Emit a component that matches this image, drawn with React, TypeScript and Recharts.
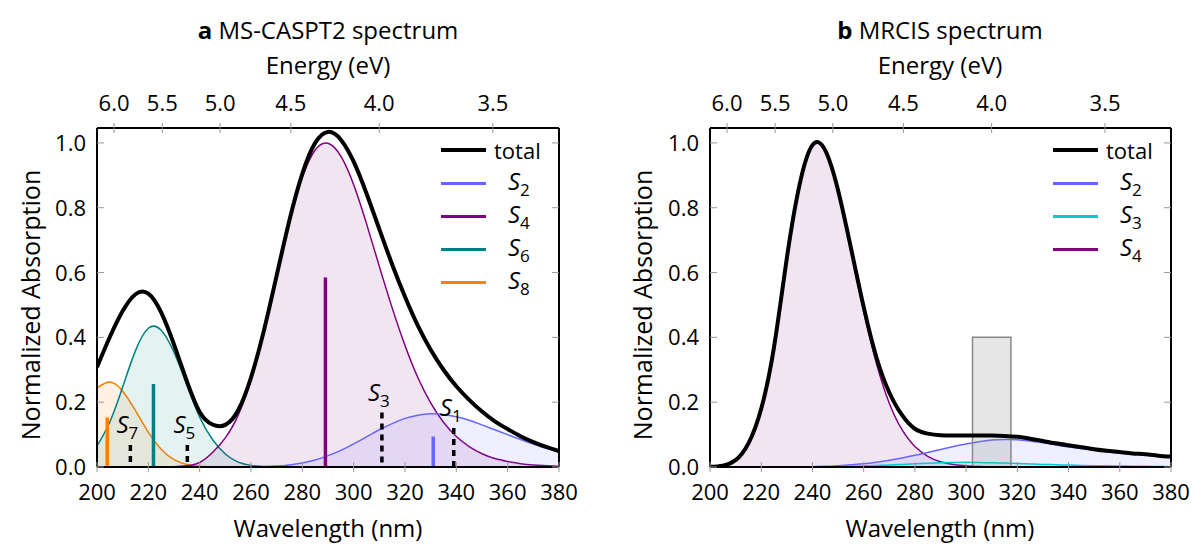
import React from 'react';
import { ComposedChart, Area, Line, XAxis, YAxis, ReferenceLine, ReferenceArea, Scatter } from 'recharts';

const FONT = '"Open Sans", "DejaVu Sans", sans-serif';

// shared wavelength grid (nm)
const wavelengths = [
  200, 205, 210, 215, 220, 225, 230, 235, 240, 245, 250, 255, 260, 265, 270, 275, 280, 285, 290,
  295, 300, 305, 310, 315, 320, 325, 330, 335, 340, 345, 350, 355, 360, 365, 370, 375, 380,
];

// panel a: MS-CASPT2
const aTotal = [
  0.308, 0.401, 0.481, 0.533, 0.535, 0.477, 0.378, 0.265, 0.17, 0.131, 0.13, 0.175, 0.276, 0.42, 0.591,
  0.762, 0.905, 1.0, 1.034, 1.01, 0.942, 0.844, 0.734, 0.625, 0.525, 0.436, 0.362, 0.3, 0.249, 0.207,
  0.171, 0.141, 0.117, 0.095, 0.077, 0.062, 0.049,
];
const aS2 = [
  0, 0, 0, 0, 0, 0, 0, 0, 0, 0, 0, 0.0002, 0.0005, 0.0013, 0.003, 0.0065, 0.0124, 0.0215, 0.035, 0.0514,
  0.0714, 0.0932, 0.115, 0.134, 0.15, 0.16, 0.164, 0.162, 0.155, 0.144, 0.13, 0.115, 0.1, 0.085, 0.071,
  0.058, 0.047,
];
const aS4 = [
  0, 0, 0, 0, 0, 0, 0.001, 0.004, 0.014, 0.045, 0.09, 0.16, 0.27, 0.418, 0.588, 0.755, 0.893, 0.978, 0.999,
  0.959, 0.871, 0.751, 0.619, 0.491, 0.375, 0.276, 0.198, 0.138, 0.094, 0.063, 0.041, 0.026, 0.017, 0.01,
  0.006, 0.004, 0.002,
];
const aS6 = [
  0.065, 0.139, 0.247, 0.359, 0.428, 0.422, 0.354, 0.253, 0.154, 0.085, 0.04, 0.015, 0.005, 0.001, 0, 0, 0,
  0, 0, 0, 0, 0, 0, 0, 0, 0, 0, 0, 0, 0, 0, 0, 0, 0, 0, 0, 0,
];
const aS8 = [
  0.243, 0.262, 0.234, 0.174, 0.107, 0.055, 0.023, 0.008, 0.002, 0.0005, 0, 0, 0, 0, 0, 0, 0, 0, 0, 0, 0,
  0, 0, 0, 0, 0, 0, 0, 0, 0, 0, 0, 0, 0, 0, 0, 0,
];

// oscillator-strength sticks, panel a
const aStickStates = ['S8', 'S6', 'S4', 'S2'];
const aStickWl = [204, 222, 289, 331];
const aStickHeight = [0.153, 0.256, 0.585, 0.094];
const aDarkStates = ['7', '5', '3', '1'];
const aDarkWl = [213, 235.2, 311, 339];
const aDarkHeight = [0.068, 0.068, 0.168, 0.12];

// panel b: MRCIS
const bTotal = [
  0.0006, 0.0043, 0.021, 0.073, 0.18, 0.37, 0.644, 0.872, 0.993, 0.977, 0.854, 0.677, 0.494, 0.338, 0.23,
  0.16, 0.118, 0.103, 0.098, 0.097, 0.097, 0.097, 0.097, 0.096, 0.093, 0.087, 0.08, 0.073, 0.067, 0.061,
  0.055, 0.05, 0.046, 0.042, 0.039, 0.035, 0.032,
];
const bS2 = [
  0, 0, 0, 0, 0, 0, 0, 0, 0.001, 0.002, 0.004, 0.007, 0.01, 0.015, 0.021, 0.028, 0.036, 0.045, 0.054,
  0.063, 0.071, 0.078, 0.083, 0.085, 0.084, 0.08, 0.075, 0.068, 0.062, 0.057, 0.052, 0.047, 0.043, 0.04,
  0.037, 0.034, 0.031,
];
const bS3 = [
  0, 0, 0, 0, 0, 0, 0, 0, 0, 0, 0.001, 0.002, 0.003, 0.0045, 0.006, 0.008, 0.01, 0.0115, 0.013, 0.014,
  0.0145, 0.014, 0.013, 0.012, 0.011, 0.0095, 0.008, 0.007, 0.006, 0.005, 0.004, 0.0035, 0.003, 0.0025,
  0.002, 0.0015, 0.001,
];
const bS4 = [
  0.0006, 0.0043, 0.021, 0.073, 0.18, 0.37, 0.644, 0.872, 0.992, 0.974, 0.849, 0.668, 0.481, 0.319, 0.197,
  0.115, 0.063, 0.033, 0.016, 0.008, 0.0038, 0.0017, 0.0008, 0.0003, 0, 0, 0, 0, 0, 0, 0, 0, 0, 0, 0, 0, 0,
];
// shaded window (nm) and its height
const bWindow = [302.5, 317.5];
const bWindowHeight = 0.4;

// axis ticks
const wavelengthTicks = [200, 220, 240, 260, 280, 300, 320, 340, 360, 380];
const energyLabels = ['6.0', '5.5', '5.0', '4.5', '4.0', '3.5'];
const energyTickWl = [206.64, 225.43, 247.97, 275.52, 309.96, 354.24];
const absTicks = [0, 0.2, 0.4, 0.6, 0.8, 1.0];

const COLORS: Record<string, string> = {
  total: '#000000',
  S2: '#6666ff',
  S3: '#00cccc',
  S4: '#800080',
  S6: '#008080',
  S8: '#ff8000',
};

const aRows = wavelengths.map((wl, i) => ({ wl, total: aTotal[i], S2: aS2[i], S4: aS4[i], S6: aS6[i], S8: aS8[i] }));
const bRows = wavelengths.map((wl, i) => ({ wl, total: bTotal[i], S2: bS2[i], S3: bS3[i], S4: bS4[i] }));
const aLabels = aDarkWl.map((wl, i) => ({ wl, f: aDarkHeight[i], n: aDarkStates[i] }));

const BottomTick = (p: any) => (
  <g>
    <line x1={p.x} x2={p.x} y1={p.y - 5} y2={p.y + 5} stroke="#999" strokeWidth={1} />
    <text x={p.x} y={p.y + 33} textAnchor="middle" fontSize={22} fontFamily={FONT} fill="#000">
      {p.payload.value}
    </text>
  </g>
);

const TopTick = (p: any) => (
  <g>
    <line x1={p.x} x2={p.x} y1={p.y - 5} y2={p.y + 5} stroke="#999" strokeWidth={1} />
    <text x={p.x} y={p.y - 17} textAnchor="middle" fontSize={22} fontFamily={FONT} fill="#000">
      {energyLabels[energyTickWl.indexOf(p.payload.value)]}
    </text>
  </g>
);

const LeftTick = (p: any) => (
  <g>
    <line x1={p.x} x2={p.x + 7} y1={p.y} y2={p.y} stroke="#999" strokeWidth={1} />
    <text x={p.x - 11} y={p.y + 8} textAnchor="end" fontSize={22} fontFamily={FONT} fill="#000">
      {Number(p.payload.value).toFixed(1)}
    </text>
  </g>
);

const RightTick = (p: any) => (
  <line x1={p.x - 7} x2={p.x} y1={p.y} y2={p.y} stroke="#999" strokeWidth={1} />
);

const StateLabel = (p: any) => (
  <text x={p.cx - 3} y={p.cy - 12} textAnchor="middle" fontSize={24} fontFamily={FONT} fill="#000">
    <tspan fontStyle="italic">S</tspan>
    <tspan fontSize={17} dy={6}>{p.payload.n}</tspan>
  </text>
);

const Sub = ({ n }: { n: string }) => (
  <span>
    <i>S</i>
    <span style={{ fontSize: 17, position: 'relative', top: 6 }}>{n}</span>
  </span>
);

const axes = (
  [
    <XAxis key="xb" dataKey="wl" type="number" domain={[200, 380]} ticks={wavelengthTicks} interval={0}
      height={1} tickSize={0} tickMargin={0} tickLine={false} tick={<BottomTick />}
      axisLine={{ stroke: '#000', strokeWidth: 2 }} allowDataOverflow />,
    <XAxis key="xt" xAxisId="top" orientation="top" dataKey="wl" type="number" domain={[200, 380]}
      ticks={energyTickWl} interval={0} height={1} tickSize={0} tickMargin={0} tickLine={false}
      tick={<TopTick />} axisLine={{ stroke: '#000', strokeWidth: 2 }} allowDataOverflow />,
    <YAxis key="yl" type="number" domain={[0, 1.046]} ticks={absTicks} interval={0} width={1}
      tickSize={0} tickMargin={0} tickLine={false} tick={<LeftTick />}
      axisLine={{ stroke: '#000', strokeWidth: 2 }} allowDataOverflow />,
    <YAxis key="yr" yAxisId="right" orientation="right" type="number" domain={[0, 1.046]} ticks={absTicks}
      interval={0} width={1} tickSize={0} tickMargin={0} tickLine={false} tick={<RightTick />}
      axisLine={{ stroke: '#000', strokeWidth: 2 }} allowDataOverflow />,
  ]
);

const comp = (key: string) => (
  <Area key={key} dataKey={key} type="natural" stroke={COLORS[key]} strokeWidth={1.5} fill={COLORS[key]}
    fillOpacity={0.1} dot={false} activeDot={false} isAnimationActive={false} />
);

const Texts = ({ cx, title, bold, ylx }: { cx: number; title: string; bold: string; ylx: number }) => (
  <>
    <div style={{ position: 'absolute', left: cx - 200, width: 400, top: 14, textAlign: 'center', fontSize: 24, lineHeight: '32px' }}>
      <b>{bold}</b> {title}
    </div>
    <div style={{ position: 'absolute', left: cx - 200, width: 400, top: 49, textAlign: 'center', fontSize: 24, lineHeight: '32px' }}>
      Energy (eV)
    </div>
    <div style={{ position: 'absolute', left: cx - 200, width: 400, top: 512, textAlign: 'center', fontSize: 24, lineHeight: '32px' }}>
      Wavelength (nm)
    </div>
    <div style={{ position: 'absolute', left: ylx - 200, width: 400, top: 305 - 16, textAlign: 'center', fontSize: 25, lineHeight: '32px', transform: 'rotate(-90deg)' }}>
      Normalized Absorption
    </div>
  </>
);

const LegendBox = ({ x, keys, textX }: { x: number; keys: string[]; textX: number }) => (
  <>
    {keys.map((k, i) => (
      <div key={k} style={{ position: 'absolute', left: x, top: 150 + i * 33 - 16, height: 32, width: 140 }}>
        <div style={{ position: 'absolute', left: 0, top: k === 'total' ? 14 : 14.5, width: 45, height: k === 'total' ? 4 : 3, background: COLORS[k] }} />
        <div style={{ position: 'absolute', left: k === 'total' ? 53 : textX, top: k === 'total' ? 0 : -2, fontSize: k === 'total' ? 22 : 24, lineHeight: '32px' }}>
          {k === 'total' ? 'total' : <Sub n={k.slice(1)} />}
        </div>
      </div>
    ))}
  </>
);

export default function App() {
  return (
    <div style={{ position: 'absolute', left: 0, top: 0, width: 1195, height: 545, background: '#fff', fontFamily: FONT, color: '#000' }}>
      <div style={{ position: 'absolute', left: 0, top: 0 }}>
        <ComposedChart width={600} height={545} data={aRows} margin={{ top: 127, right: 40, bottom: 77, left: 96 }}>
          {axes}
          {comp('S8')}
          {comp('S6')}
          {comp('S4')}
          {comp('S2')}
          <Line dataKey="total" type="natural" stroke="#000" strokeWidth={4} dot={false} activeDot={false} isAnimationActive={false} />
          {aStickWl.map((wl, i) => (
            <ReferenceLine key={aStickStates[i]} segment={[{ x: wl, y: 0 }, { x: wl, y: aStickHeight[i] }]}
              stroke={COLORS[aStickStates[i]]} strokeWidth={3.5} ifOverflow="visible" />
          ))}
          {aDarkWl.map((wl, i) => (
            <ReferenceLine key={'d' + i} segment={[{ x: wl, y: aDarkHeight[i] }, { x: wl, y: 0 }]}
              stroke="#000" strokeWidth={3.5} strokeDasharray="6 5" ifOverflow="visible" />
          ))}
          <Scatter data={aLabels} dataKey="f" shape={<StateLabel />} isAnimationActive={false} />
        </ComposedChart>
      </div>
      <div style={{ position: 'absolute', left: 600, top: 0 }}>
        <ComposedChart width={595} height={545} data={bRows} margin={{ top: 127, right: 23, bottom: 77, left: 109 }}>
          {axes}
          {comp('S4')}
          {comp('S2')}
          {comp('S3')}
          <ReferenceArea x1={bWindow[0]} x2={bWindow[1]} y1={0} y2={bWindowHeight} fill="#808080" fillOpacity={0.2}
            stroke="#888" strokeWidth={1.5} ifOverflow="visible" />
          <Line dataKey="total" type="natural" stroke="#000" strokeWidth={4} dot={false} activeDot={false} isAnimationActive={false} />
        </ComposedChart>
      </div>
      <Texts cx={328} title="MS-CASPT2 spectrum" bold="a" ylx={30} />
      <Texts cx={940} title="MRCIS spectrum" bold="b" ylx={642} />
      <LegendBox x={441} keys={['total', 'S2', 'S4', 'S6', 'S8']} textX={67} />
      <LegendBox x={1053} keys={['total', 'S2', 'S3', 'S4']} textX={67} />
    </div>
  );
}
